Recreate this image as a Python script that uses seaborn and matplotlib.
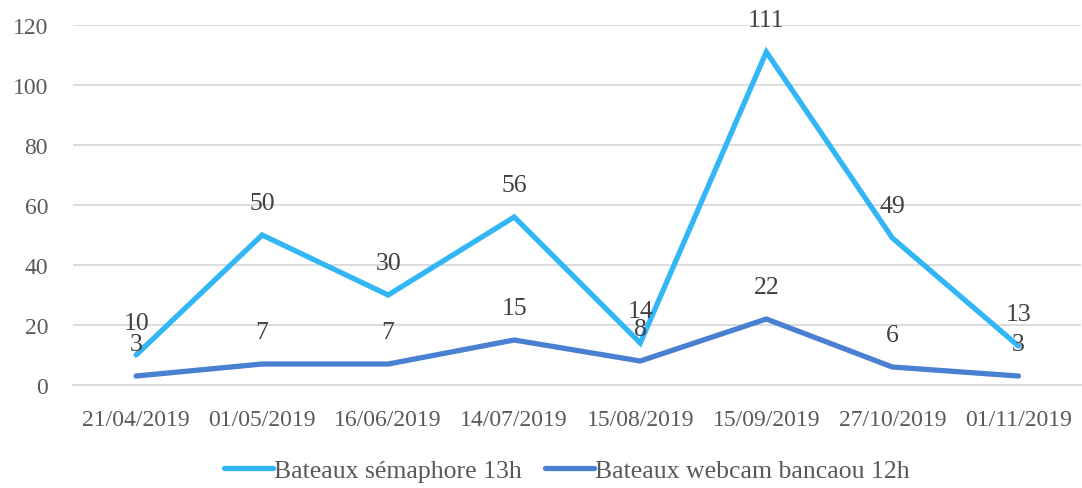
import pandas as pd
import matplotlib.pyplot as plt
import seaborn as sns

dates = ["21/04/2019", "01/05/2019", "16/06/2019", "14/07/2019",
         "15/08/2019", "15/09/2019", "27/10/2019", "01/11/2019"]
semaphore = [10, 50, 30, 56, 14, 111, 49, 13]
webcam = [3, 7, 7, 15, 8, 22, 6, 3]
series_names = ["Bateaux sémaphore 13h", "Bateaux webcam bancaou 12h"]
couleurs = ["#33b6f6", "#4a80d2"]

sns.set_theme(style="white")
plt.rcParams['font.family'] = ['Liberation Serif', 'DejaVu Serif']
gris = "#595959"

df = pd.DataFrame({
    "pos": list(range(len(dates))) * 2,
    "valeur": semaphore + webcam,
    "serie": [series_names[0]] * len(dates) + [series_names[1]] * len(dates),
})

fig = plt.figure(figsize=(10.82, 4.89), dpi=100)
ax = fig.add_axes([0.0675, 0.2106, 0.932, 0.7362])

sns.lineplot(data=df, x="pos", y="valeur", hue="serie", palette=couleurs,
             linewidth=3.8, ax=ax, legend=False, sort=False)
for line in ax.lines:
    line.set_solid_capstyle("round")
    line.set_solid_joinstyle("miter")

# Etiquettes de données
for vals in (semaphore, webcam):
    for i, v in enumerate(vals):
        ax.annotate(str(v), (i, v), xytext=(0, 23), textcoords="offset points",
                    ha="center", va="center", fontsize=18.5, color="#404040")

ax.set_xlim(-0.5, len(dates) - 0.5)
ax.set_ylim(0, 120)
ax.set_yticks(range(0, 121, 20))
ax.set_xticks(range(len(dates)))
ax.set_xticklabels(dates)
ax.set_xticks([i - 0.5 for i in range(len(dates) + 1)], minor=True)
ax.tick_params(axis="x", which="major", length=0, pad=17, labelsize=17, labelcolor=gris)
ax.tick_params(axis="x", which="minor", length=8, width=1.3, color="#d9d9d9", direction="out")
ax.tick_params(axis="y", length=0, pad=18, labelsize=17, labelcolor=gris)
ax.yaxis.grid(True, color="#d9d9d9", linewidth=1.3)
ax.set_axisbelow(True)
ax.set_xlabel("")
ax.set_ylabel("")
for s in ["left", "right", "top"]:
    ax.spines[s].set_visible(False)
ax.spines["bottom"].set_color("#d9d9d9")
ax.spines["bottom"].set_linewidth(1.3)

handles = [plt.Line2D([], [], color=c, linewidth=3.8, solid_capstyle="round") for c in couleurs]
fig.legend(handles, series_names, loc="center", bbox_to_anchor=(0.524, 0.035), ncol=2,
           frameon=False, fontsize=18.5, handlelength=1.9, handletextpad=0.05,
           columnspacing=0.9, labelcolor=gris)

fig.savefig("out.png", dpi=100)
